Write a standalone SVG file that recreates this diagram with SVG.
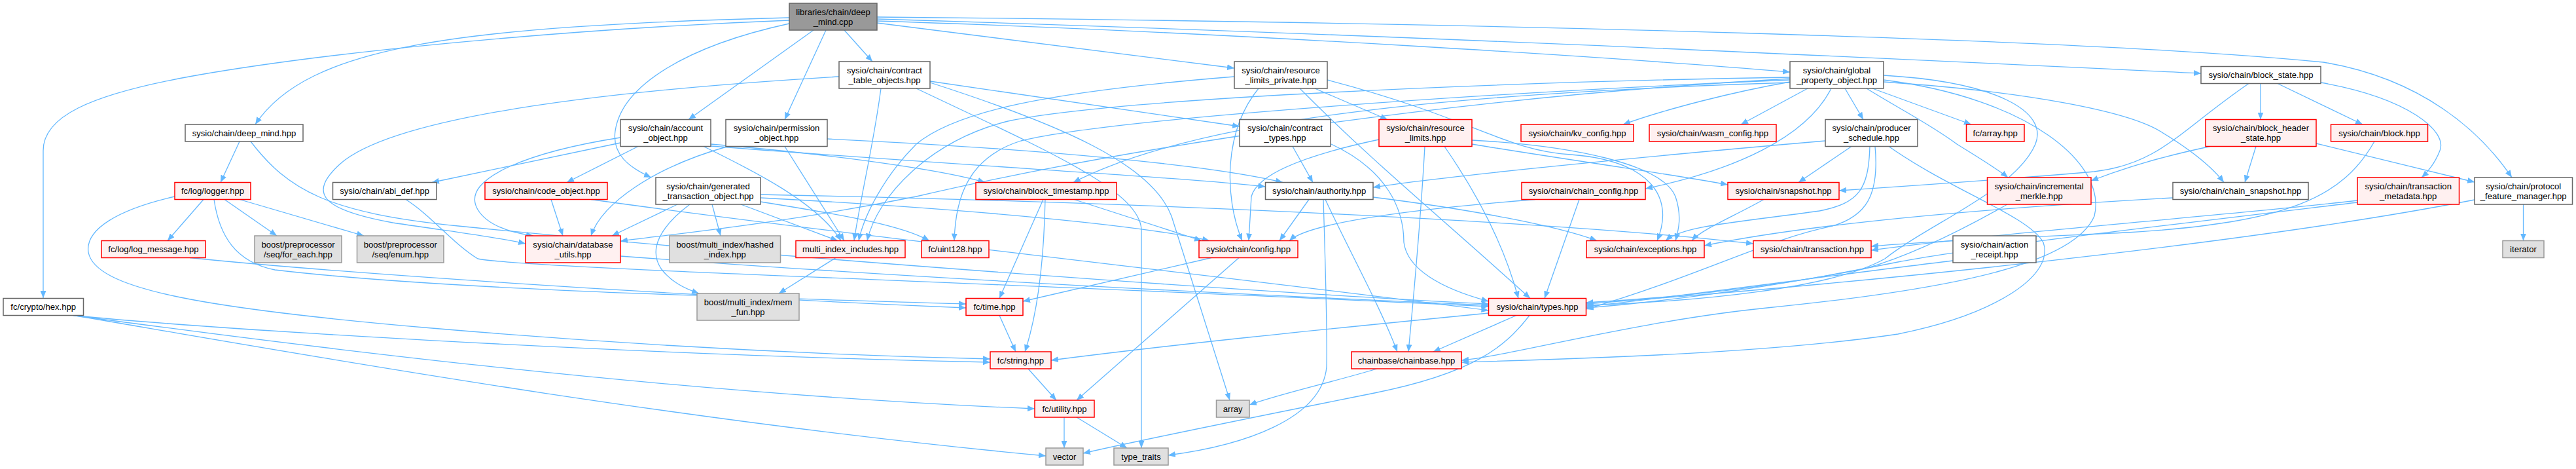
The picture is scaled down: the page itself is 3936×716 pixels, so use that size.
<svg xmlns="http://www.w3.org/2000/svg" width="3936" height="716" viewBox="0 0 3936 716">
<style>
.e{fill:none;stroke:#63b8ff;stroke-width:1.3;marker-end:url(#ah)}
.n rect{stroke-width:1.5}
.w rect{fill:#ffffff;stroke:#666666}
.r rect{fill:#fff0f0;stroke:#ff0000}
.g rect{fill:#e0e0e0;stroke:#999999}
.k rect{fill:#999999;stroke:#666666}
text{font-family:"Liberation Sans",Arial,Helvetica,sans-serif;font-size:13.1px;text-anchor:middle;fill:#000000}
</style>
<defs>
<marker id="ah" markerUnits="userSpaceOnUse" markerWidth="11" markerHeight="9" refX="11" refY="4.5" orient="auto" viewBox="0 0 11 9"><path d="M0,0 L11,4.5 L0,9 z" fill="#63b8ff"/></marker>
</defs>
<rect x="0" y="0" width="3936" height="716" fill="#ffffff"/>
<g id="edges">
<path class="e" d="M1206,27 C700,40 470,70 390,190"/>
<path class="e" d="M1206,31 C850,45 500,80 300,115 C130,145 66,180 66,230 L66,455"/>
<path class="e" d="M1243,46 L1052,182.5"/>
<path class="e" d="M1262,46 L1199,182.5"/>
<path class="e" d="M1290,46 L1333,94"/>
<path class="e" d="M1206,36 C1050,70 950,130 940,200 C935,235 960,255 995,271"/>
<path class="e" d="M1340,35 L1886,104"/>
<path class="e" d="M1340,32 C1900,50 2500,90 2735,110"/>
<path class="e" d="M1340,29 C2200,55 3000,95 3363,112"/>
<path class="e" d="M1340,26 C2300,35 3200,60 3550,95 C3700,120 3790,200 3838,271"/>
<path class="e" d="M366,216 L337,278.5"/>
<path class="e" d="M383,216 C440,290 500,325 700,345 C1200,395 1900,445 2274.5,464"/>
<path class="e" d="M311,304.5 L256,367.5"/>
<path class="e" d="M343,304.5 L423,360"/>
<path class="e" d="M366,304.5 L556,360"/>
<path class="e" d="M327,304.5 C335,360 360,400 420,412 C700,445 1200,455 1476,464"/>
<path class="e" d="M267,300 C180,320 130,350 135,385 C145,440 300,470 660,501 C1000,530 1300,543 1513,548"/>
<path class="e" d="M290,393.5 C500,415 1000,450 1476,470"/>
<path class="e" d="M111,481.5 C300,500 900,540 1513,553"/>
<path class="e" d="M112,481.5 C400,520 1000,600 1581,624"/>
<path class="e" d="M113,481.5 C400,530 1000,640 1598,696"/>
<path class="e" d="M620,304.5 C660,330 690,370 730,395 C800,410 1500,430 2274.5,468"/>
<path class="e" d="M948,210 C820,230 700,270 730,320 C745,345 780,355 815,360"/>
<path class="e" d="M948,218 L660,278.5"/>
<path class="e" d="M975,223.5 L866,278.5"/>
<path class="e" d="M1075,223.5 C1150,260 1250,310 1285,367.5"/>
<path class="e" d="M1086,220 C1300,238 1450,262 1505,278.5"/>
<path class="e" d="M1086,223 C1500,255 1800,270 1933.5,285"/>
<path class="e" d="M1112,223.5 C1000,255 920,310 903,360"/>
<path class="e" d="M1199,223.5 L1290,367.5"/>
<path class="e" d="M1264,212 C1600,228 1850,252 1960,278.5"/>
<path class="e" d="M842,304.5 L860,360"/>
<path class="e" d="M903,304.5 C1300,360 1900,425 2274.5,474"/>
<path class="e" d="M1035,312 L935,360"/>
<path class="e" d="M1054,312 C1010,345 990,380 1010,410 C1025,430 1045,440 1068,448"/>
<path class="e" d="M1088,312 L1101,360"/>
<path class="e" d="M1132,312 L1280,367.5"/>
<path class="e" d="M1162,308 C1300,330 1380,345 1420,367.5"/>
<path class="e" d="M1162,302 C1500,320 1750,345 1848,367.5"/>
<path class="e" d="M1162,297 C1800,310 2400,340 2679,372"/>
<path class="e" d="M948,391 C1400,425 1900,450 2274.5,466"/>
<path class="e" d="M1277,393.5 L1190,448"/>
<path class="e" d="M1282,117 C900,140 600,180 520,250 C470,295 490,320 600,340 C700,355 760,362 803,372"/>
<path class="e" d="M1346,135 C1335,220 1315,300 1305,367.5"/>
<path class="e" d="M1400,135 C1600,230 1740,290 1744,350 L1744,684"/>
<path class="e" d="M1421,126 C1620,190 1760,250 1790,330 L1879,611"/>
<path class="e" d="M1421,124 L1894,193"/>
<path class="e" d="M1594,304.5 L1527,455.5"/>
<path class="e" d="M1597,304.5 C1595,400 1585,480 1566,537"/>
<path class="e" d="M1641,304.5 L1836,367.5"/>
<path class="e" d="M1527,481.5 L1552,537"/>
<path class="e" d="M1571,563 L1614,611"/>
<path class="e" d="M1626,637 L1626,684"/>
<path class="e" d="M1645,637 L1722,684"/>
<path class="e" d="M1886,117 C1600,140 1460,170 1400,220 C1350,270 1320,330 1312,367.5"/>
<path class="e" d="M2009,135 L2120,182.5"/>
<path class="e" d="M1986,135 C2100,250 2200,330 2338,455.5"/>
<path class="e" d="M1923,135 C1870,200 1870,300 1898,367.5"/>
<path class="e" d="M2028,122 C2250,180 2300,230 2400,236 C2520,245 2560,300 2532,367.5"/>
<path class="e" d="M2249,220 C2400,245 2550,265 2640,282"/>
<path class="e" d="M2177,223.5 C2170,350 2160,450 2152,537"/>
<path class="e" d="M2107,213 C1980,240 1920,270 1912,300 L1908,367.5"/>
<path class="e" d="M2207,223.5 C2260,300 2300,380 2320,455.5"/>
<path class="e" d="M2249,214 C2400,222 2540,250 2560,300 C2570,330 2565,350 2560,367.5"/>
<path class="e" d="M1975,223.5 L2006,278.5"/>
<path class="e" d="M2034,220 C2120,260 2145,320 2145,370 C2150,410 2200,440 2274.5,460"/>
<path class="e" d="M2000,304.5 L1955,367.5"/>
<path class="e" d="M2022,304.5 C2025,400 2028,520 2027,560 C2020,640 1900,680 1785,695"/>
<path class="e" d="M2025,304.5 C2060,380 2110,470 2135,537"/>
<path class="e" d="M2098,301 C2250,320 2380,345 2440,367.5"/>
<path class="e" d="M2413,304.5 L2360,455.5"/>
<path class="e" d="M2346,304.5 C2150,320 2000,340 1970,367.5"/>
<path class="e" d="M2798,135 C2760,210 2650,260 2514,288"/>
<path class="e" d="M2762,135 L2660,190"/>
<path class="e" d="M2735,125 C2650,140 2550,165 2480,190"/>
<path class="e" d="M2819,135 L2847,182.5"/>
<path class="e" d="M2861,135 L3012,190"/>
<path class="e" d="M2852,135 C2900,165 2950,190 2990,220 C3030,245 3055,260 3068,271"/>
<path class="e" d="M2735,118 C2300,125 1700,150 1540,185 C1420,215 1340,300 1325,367.5"/>
<path class="e" d="M2735,122 C2300,140 1700,180 1560,215 C1480,240 1460,300 1458,367.5"/>
<path class="e" d="M2735,126 C2300,140 1850,170 1640,278.5"/>
<path class="e" d="M2735,120 C2200,150 1700,230 1400,300 C1200,340 1050,355 948,368"/>
<path class="e" d="M2878,115 C3050,125 3130,170 3110,220 C3080,290 2950,340 2880,395 C2800,440 2600,460 2423.5,466"/>
<path class="e" d="M2878,122 C3100,150 3220,250 3200,330 C3170,400 3000,440 2700,470 C2500,490 2300,545 2233,550"/>
<path class="e" d="M2878,125 C3100,140 3250,170 3300,200 C3350,230 3380,255 3398,278.5"/>
<path class="e" d="M2789,215 C2500,240 2200,270 2098,286"/>
<path class="e" d="M2829,223.5 L2748,278.5"/>
<path class="e" d="M2857,223.5 C2855,290 2840,310 2780,322 C2650,340 2570,345 2545,367.5"/>
<path class="e" d="M2865,223.5 C2872,300 2850,330 2800,345 C2700,365 2600,420 2423.5,472"/>
<path class="e" d="M2886,223.5 C2980,290 3100,330 3122,370 C3140,420 3050,480 2900,510 C2700,540 2400,548 2233,553"/>
<path class="e" d="M2695,304.5 C2650,330 2600,350 2585,367.5"/>
<path class="e" d="M3067,312 C3000,350 2920,390 2850,410 C2700,440 2550,455 2423.5,462"/>
<path class="e" d="M3454,127.5 L3454,182.5"/>
<path class="e" d="M3480,127.5 L3610,190"/>
<path class="e" d="M3546,126 C3680,150 3740,200 3728,230 C3720,250 3710,262 3700,271"/>
<path class="e" d="M3436,127.5 C3330,200 3300,250 3200,262 C3050,275 2900,285 2810,291"/>
<path class="e" d="M3447,223.5 L3430,278.5"/>
<path class="e" d="M3539,219 L3781,278"/>
<path class="e" d="M3377,223.5 C3300,240 3250,255 3195,276"/>
<path class="e" d="M3628,216 C3580,300 3500,340 3250,355 C3100,362 2950,368 2859,376"/>
<path class="e" d="M3602,306 C3400,330 3100,350 2859,382"/>
<path class="e" d="M3602,309 C3300,345 3000,380 2900,400 C2700,440 2550,460 2423.5,470"/>
<path class="e" d="M2984,398 C2800,420 2550,455 2423.5,468"/>
<path class="e" d="M3320,302 C3000,320 2750,345 2604,375"/>
<path class="e" d="M3855.5,312 L3855.5,367.5"/>
<path class="e" d="M3781,305 C3500,360 3000,420 2423.5,464"/>
<path class="e" d="M2317,481.5 L2190,537"/>
<path class="e" d="M2337,481.5 C2300,530 2250,570 2100,600 C1900,640 1750,670 1655,692"/>
<path class="e" d="M2274.5,478 C2000,505 1800,525 1606,550"/>
<path class="e" d="M2104,563 C2030,585 1960,600 1909,618"/>
<path class="e" d="M1851,393.5 L1563,460"/>
<path class="e" d="M1893,393.5 L1645,611"/>
</g>
<g id="n_root" class="n k"><rect x="1206" y="5" width="134" height="41"/><text x="1273" y="22.5">libraries/chain/deep</text><text x="1273" y="37.5">_mind.cpp</text></g>
<g id="n_deep_mind_hpp" class="n w"><rect x="283" y="190" width="180" height="26"/><text x="373" y="207.5">sysio/chain/deep_mind.hpp</text></g>
<g id="n_logger" class="n r"><rect x="267" y="278.5" width="116" height="26"/><text x="325" y="296">fc/log/logger.hpp</text></g>
<g id="n_log_message" class="n r"><rect x="155" y="367.5" width="159" height="26"/><text x="234.5" y="385">fc/log/log_message.hpp</text></g>
<g id="n_for_each" class="n g"><rect x="389" y="360" width="133" height="41"/><text x="455.5" y="377.5">boost/preprocessor</text><text x="455.5" y="392.5">/seq/for_each.hpp</text></g>
<g id="n_enum" class="n g"><rect x="545.5" y="360" width="132.5" height="41"/><text x="611.8" y="377.5">boost/preprocessor</text><text x="611.8" y="392.5">/seq/enum.hpp</text></g>
<g id="n_hex" class="n w"><rect x="5" y="455.5" width="122.5" height="26"/><text x="66.2" y="473">fc/crypto/hex.hpp</text></g>
<g id="n_abi_def" class="n w"><rect x="508.5" y="278.5" width="158.5" height="26"/><text x="587.7" y="296">sysio/chain/abi_def.hpp</text></g>
<g id="n_code_object" class="n r"><rect x="741" y="278.5" width="187" height="26"/><text x="834.5" y="296">sysio/chain/code_object.hpp</text></g>
<g id="n_account_object" class="n w"><rect x="948" y="182.5" width="138" height="41"/><text x="1017" y="200">sysio/chain/account</text><text x="1017" y="215">_object.hpp</text></g>
<g id="n_permission_object" class="n w"><rect x="1109" y="182.5" width="155" height="41"/><text x="1186.5" y="200">sysio/chain/permission</text><text x="1186.5" y="215">_object.hpp</text></g>
<g id="n_generated_transaction_object" class="n w"><rect x="1002" y="271" width="160" height="41"/><text x="1082" y="288.5">sysio/chain/generated</text><text x="1082" y="303.5">_transaction_object.hpp</text></g>
<g id="n_database_utils" class="n r"><rect x="803" y="360" width="145" height="41"/><text x="875.5" y="377.5">sysio/chain/database</text><text x="875.5" y="392.5">_utils.hpp</text></g>
<g id="n_hashed_index" class="n g"><rect x="1023" y="360" width="169.5" height="41"/><text x="1107.7" y="377.5">boost/multi_index/hashed</text><text x="1107.7" y="392.5">_index.hpp</text></g>
<g id="n_multi_index_includes" class="n r"><rect x="1216" y="367.5" width="167" height="26"/><text x="1299.5" y="385">multi_index_includes.hpp</text></g>
<g id="n_mem_fun" class="n g"><rect x="1065" y="448" width="156" height="41"/><text x="1143" y="465.5">boost/multi_index/mem</text><text x="1143" y="480.5">_fun.hpp</text></g>
<g id="n_contract_table_objects" class="n w"><rect x="1282" y="94" width="139" height="41"/><text x="1351.5" y="111.5">sysio/chain/contract</text><text x="1351.5" y="126.5">_table_objects.hpp</text></g>
<g id="n_uint128" class="n r"><rect x="1408" y="367.5" width="103" height="26"/><text x="1459.5" y="385">fc/uint128.hpp</text></g>
<g id="n_block_timestamp" class="n r"><rect x="1491" y="278.5" width="215" height="26"/><text x="1598.5" y="296">sysio/chain/block_timestamp.hpp</text></g>
<g id="n_time" class="n r"><rect x="1476" y="455.5" width="87" height="26"/><text x="1519.5" y="473">fc/time.hpp</text></g>
<g id="n_string" class="n r"><rect x="1513" y="537" width="93" height="26"/><text x="1559.5" y="554.5">fc/string.hpp</text></g>
<g id="n_utility" class="n r"><rect x="1581" y="611" width="91" height="26"/><text x="1626.5" y="628.5">fc/utility.hpp</text></g>
<g id="n_vector" class="n g"><rect x="1598" y="684" width="57" height="26"/><text x="1626.5" y="701.5">vector</text></g>
<g id="n_type_traits" class="n g"><rect x="1702" y="684" width="83" height="26"/><text x="1743.5" y="701.5">type_traits</text></g>
<g id="n_array" class="n g"><rect x="1858.5" y="611" width="50.5" height="26"/><text x="1883.7" y="628.5">array</text></g>
<g id="n_resource_limits_private" class="n w"><rect x="1886" y="94" width="142" height="41"/><text x="1957" y="111.5">sysio/chain/resource</text><text x="1957" y="126.5">_limits_private.hpp</text></g>
<g id="n_contract_types" class="n w"><rect x="1894" y="182.5" width="139" height="41"/><text x="1963.5" y="200">sysio/chain/contract</text><text x="1963.5" y="215">_types.hpp</text></g>
<g id="n_authority" class="n w"><rect x="1933.5" y="278.5" width="164.5" height="26"/><text x="2015.7" y="296">sysio/chain/authority.hpp</text></g>
<g id="n_config" class="n r"><rect x="1832" y="367.5" width="151" height="26"/><text x="1907.5" y="385">sysio/chain/config.hpp</text></g>
<g id="n_resource_limits" class="n r"><rect x="2107" y="182.5" width="142" height="41"/><text x="2178" y="200">sysio/chain/resource</text><text x="2178" y="215">_limits.hpp</text></g>
<g id="n_kv_config" class="n r"><rect x="2324" y="190" width="172" height="26"/><text x="2410" y="207.5">sysio/chain/kv_config.hpp</text></g>
<g id="n_wasm_config" class="n r"><rect x="2520" y="190" width="194" height="26"/><text x="2617" y="207.5">sysio/chain/wasm_config.hpp</text></g>
<g id="n_chain_config" class="n r"><rect x="2325" y="278.5" width="189" height="26"/><text x="2419.5" y="296">sysio/chain/chain_config.hpp</text></g>
<g id="n_exceptions" class="n r"><rect x="2424" y="367.5" width="180" height="26"/><text x="2514" y="385">sysio/chain/exceptions.hpp</text></g>
<g id="n_types" class="n r"><rect x="2274.5" y="455.5" width="149" height="26"/><text x="2349" y="473">sysio/chain/types.hpp</text></g>
<g id="n_chainbase" class="n r"><rect x="2065" y="537" width="168" height="26"/><text x="2149" y="554.5">chainbase/chainbase.hpp</text></g>
<g id="n_global_property_object" class="n w"><rect x="2735" y="94" width="143" height="41"/><text x="2806.5" y="111.5">sysio/chain/global</text><text x="2806.5" y="126.5">_property_object.hpp</text></g>
<g id="n_producer_schedule" class="n w"><rect x="2789" y="182.5" width="141" height="41"/><text x="2859.5" y="200">sysio/chain/producer</text><text x="2859.5" y="215">_schedule.hpp</text></g>
<g id="n_fc_array" class="n r"><rect x="3004.5" y="190" width="88.5" height="26"/><text x="3048.7" y="207.5">fc/array.hpp</text></g>
<g id="n_snapshot" class="n r"><rect x="2640" y="278.5" width="170" height="26"/><text x="2725" y="296">sysio/chain/snapshot.hpp</text></g>
<g id="n_incremental_merkle" class="n r"><rect x="3036.5" y="271" width="158.5" height="41"/><text x="3115.7" y="288.5">sysio/chain/incremental</text><text x="3115.7" y="303.5">_merkle.hpp</text></g>
<g id="n_transaction" class="n r"><rect x="2679" y="367.5" width="180" height="26"/><text x="2769" y="385">sysio/chain/transaction.hpp</text></g>
<g id="n_action_receipt" class="n w"><rect x="2984" y="360" width="127" height="41"/><text x="3047.5" y="377.5">sysio/chain/action</text><text x="3047.5" y="392.5">_receipt.hpp</text></g>
<g id="n_block_state" class="n w"><rect x="3363" y="101.5" width="183" height="26"/><text x="3454.5" y="119">sysio/chain/block_state.hpp</text></g>
<g id="n_block_header_state" class="n r"><rect x="3370" y="182.5" width="169" height="41"/><text x="3454.5" y="200">sysio/chain/block_header</text><text x="3454.5" y="215">_state.hpp</text></g>
<g id="n_block" class="n r"><rect x="3561.5" y="190" width="148" height="26"/><text x="3635.5" y="207.5">sysio/chain/block.hpp</text></g>
<g id="n_chain_snapshot" class="n w"><rect x="3320" y="278.5" width="207" height="26"/><text x="3423.5" y="296">sysio/chain/chain_snapshot.hpp</text></g>
<g id="n_transaction_metadata" class="n r"><rect x="3602" y="271" width="155.5" height="41"/><text x="3679.7" y="288.5">sysio/chain/transaction</text><text x="3679.7" y="303.5">_metadata.hpp</text></g>
<g id="n_protocol_feature_manager" class="n w"><rect x="3781" y="271" width="149.5" height="41"/><text x="3855.7" y="288.5">sysio/chain/protocol</text><text x="3855.7" y="303.5">_feature_manager.hpp</text></g>
<g id="n_iterator" class="n g"><rect x="3824" y="367.5" width="63" height="26"/><text x="3855.5" y="385">iterator</text></g>
</svg>
